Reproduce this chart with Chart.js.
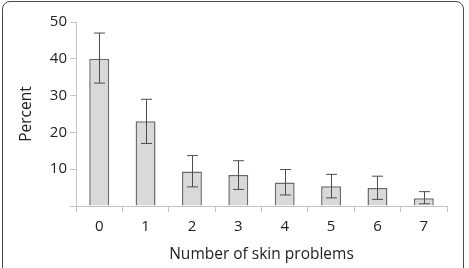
<!DOCTYPE html>
<html>
<head>
<meta charset="utf-8">
<script src="https://cdn.jsdelivr.net/npm/chart.js@4/dist/chart.umd.min.js"></script>
<style>
  html, body { margin: 0; padding: 0; background: #fff; overflow: hidden; }
  #wrap { position: relative; width: 469px; height: 268px; }
  #frame {
    position: absolute; left: 2px; top: 1px; width: 462px; height: 300px;
    border: 1.5px solid #4a4a4a; border-radius: 8px; box-sizing: border-box;
  }
  canvas { position: absolute; left: 0; top: 0; }
</style>
</head>
<body>
<div id="wrap">
  <div id="frame"></div>
  <canvas id="chart" width="469" height="268"></canvas>
</div>
<script>
const categories = ["0", "1", "2", "3", "4", "5", "6", "7"];
const percent = [40, 23, 9.4, 8.4, 6.4, 5.4, 4.9, 2.1];
const errLow = [33.4, 17, 5.2, 4.5, 3.0, 2.2, 1.8, 0.6];
const errHigh = [47, 29, 13.7, 12.3, 9.9, 8.6, 8.1, 3.9];
const yTicks = [0, 10, 20, 30, 40, 50];

const textColor = "#222";
const axisColor = "#c4c4c4";
const fontFamily = "'Open Sans', sans-serif";

// error bars drawn through the y scale
const errorBars = {
  id: "errorBars",
  afterDatasetsDraw(chart) {
    const { ctx, scales: { x, y } } = chart;
    ctx.save();
    ctx.strokeStyle = "#4d4d4d";
    ctx.lineWidth = 1;
    categories.forEach((c, i) => {
      const cx = Math.round(x.getPixelForValue(i)) + 0.5;
      const yl = y.getPixelForValue(errLow[i]);
      const yh = y.getPixelForValue(errHigh[i]);
      const w = 5.5;
      ctx.beginPath();
      ctx.moveTo(cx, yh); ctx.lineTo(cx, yl);
      ctx.moveTo(cx - w, yh); ctx.lineTo(cx + w, yh);
      ctx.moveTo(cx - w, yl); ctx.lineTo(cx + w, yl);
      ctx.stroke();
    });
    ctx.restore();
  }
};

new Chart(document.getElementById("chart"), {
  type: "bar",
  data: {
    labels: categories,
    datasets: [{
      data: percent,
      backgroundColor: "#d9d9d9",
      borderColor: "#6b6b6b",
      borderWidth: 1.5,
      categoryPercentage: 1,
      barPercentage: 0.43,
    }],
  },
  options: {
    responsive: false,
    animation: false,
    layout: { padding: { left: 0, right: 22, top: 22, bottom: 0 } },
    plugins: { legend: { display: false }, tooltip: { enabled: false } },
    scales: {
      x: {
        offset: true,
        grid: { offset: true, drawOnChartArea: false, color: axisColor, tickLength: 6 },
        border: { color: axisColor, width: 1 },
        ticks: { color: textColor, font: { family: fontFamily, size: 15 }, padding: 6, maxRotation: 0 },
        title: {
          display: true, text: "Number of skin problems", color: textColor,
          font: { family: fontFamily, size: 15.5 }, padding: { top: 0, bottom: 3.7 },
        },
        afterFit: s => { s.height = 62; },
      },
      y: {
        min: 0, max: 50,
        afterBuildTicks: s => { s.ticks = yTicks.map(v => ({ value: v })); },
        grid: { drawOnChartArea: false, color: axisColor, tickLength: 6 },
        border: { color: axisColor, width: 1 },
        ticks: {
          color: textColor, font: { family: fontFamily, size: 15 }, padding: 3,
          callback: v => (v === 0 ? "" : v),
        },
        title: {
          display: true, text: "Percent", color: textColor,
          font: { family: fontFamily, size: 15.5 }, padding: { top: 17.7, bottom: 0 },
        },
        afterFit: s => { s.width = 76; },
      },
    },
  },
  plugins: [errorBars],
});
</script>
</body>
</html>
